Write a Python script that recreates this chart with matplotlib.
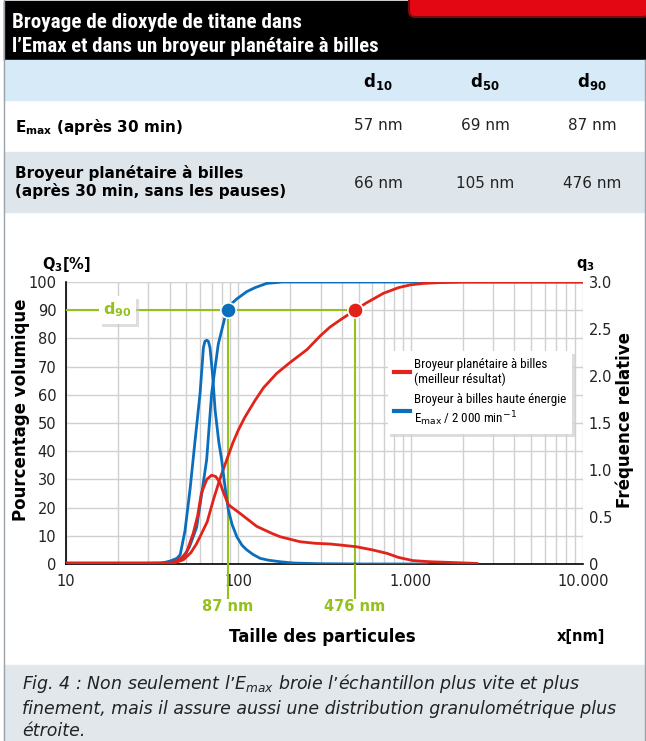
import matplotlib.pyplot as plt
from matplotlib import font_manager
from matplotlib.patches import Rectangle, FancyBboxPatch
from matplotlib.lines import Line2D
from matplotlib.ticker import NullFormatter

plt.rcParams['font.family'] = ['DejaVu Sans']
plt.rcParams['mathtext.fontset'] = 'dejavusans'

# table contents
col_labels = [r'd$_\mathbf{10}$', r'd$_\mathbf{50}$', r'd$_\mathbf{90}$']
row_labels = [r'$\mathbf{E_{max}}$ (après 30 min)',
              'Broyeur planétaire à billes\n(après 30 min, sans les pauses)']
emax_values = ['57 nm', '69 nm', '87 nm']
planet_values = ['66 nm', '105 nm', '476 nm']

# Emax (blue) - cumulative Q3 [%]
blue_cum_x = [10, 35, 40, 44, 48, 52, 57.3, 61, 65.5, 70, 76.5, 84, 87, 92, 98, 112, 125, 146, 180, 10000]
blue_cum_y = [0, 0, 0.5, 1, 2.6, 6, 13, 24, 37, 60.5, 78, 88, 90, 92.5, 94, 96.6, 98, 99.5, 100, 100]
# Emax (blue) - density q3
blue_freq_x = [10, 30, 35, 40, 44, 46, 49, 52.5, 56, 60, 62.7, 64, 65.6, 67, 68.5, 71, 73.3, 77, 80,
               84, 87.6, 92, 98, 105, 112, 122, 134, 150, 175, 210, 300, 500, 1250]
blue_freq_y = [0, 0, 0.005, 0.03, 0.06, 0.1, 0.35, 0.8, 1.3, 1.82, 2.3, 2.37, 2.38, 2.37, 2.3, 2.0, 1.64,
               1.3, 1.11, 0.8, 0.57, 0.42, 0.29, 0.2, 0.15, 0.1, 0.06, 0.04, 0.024, 0.01, 0.003, 0, 0]

# planetary mill (red) - cumulative Q3 [%]
red_cum_x = [10, 35, 42, 48, 53, 57, 60, 66, 71.6, 78, 85.7, 93, 100, 109, 125, 140, 167, 200, 250,
             300, 340, 400, 476, 550, 695, 850, 1000, 1186, 1500, 2000, 10000]
red_cum_y = [0, 0, 0.3, 1.5, 4, 7, 9.7, 15, 22.7, 30, 37, 43, 47.5, 52, 58, 62.5, 67.6, 71.5, 76,
             81, 84, 87, 90, 92.5, 96, 98, 99, 99.5, 99.8, 100, 100]
# planetary mill (red) - density q3
red_freq_x = [10, 30, 40, 43, 47, 50, 54.8, 58, 61, 65.6, 70, 74, 78, 82, 87.6, 102, 128, 159, 175,
              228, 280, 340, 400, 486, 600, 726, 850, 1033, 1297, 1800, 2422]
red_freq_y = [0.012, 0.012, 0.015, 0.024, 0.07, 0.12, 0.33, 0.51, 0.75, 0.9, 0.945, 0.93, 0.87, 0.76,
              0.63, 0.54, 0.4, 0.32, 0.29, 0.237, 0.22, 0.213, 0.2, 0.183, 0.15, 0.114, 0.07, 0.036,
              0.024, 0.015, 0.006]

# d90 markers
d90_emax = 87
d90_planet = 476
d90_level = 90

xticks = [10, 100, 1000, 10000]
xtick_labels = ['10', '100', '1.000', '10.000']
q3_ticks = [0, 0.5, 1.0, 1.5, 2.0, 2.5, 3.0]
q3_labels = ['0', '0.5', '1.0', '1.5', '2.0', '2.5', '3.0']

RED = '#e2231a'
BLUE = '#0a6ebd'
GREEN = '#95c11f'

installed = {f.name for f in font_manager.fontManager.ttflist}


def pick_font(candidates):
    for name in candidates:
        if name in installed:
            return name
    return 'DejaVu Sans'


narrow = pick_font(['Roboto Condensed', 'Liberation Sans Narrow', 'DejaVu Sans Condensed',
                    'Liberation Sans'])
title_font = narrow

fig = plt.figure(figsize=(6.46, 7.41), dpi=100)
renderer = fig.canvas.get_renderer()


def fit_width(txt, width):
    # shrink/grow a text so it spans the given pixel width
    w = txt.get_window_extent(renderer).width
    txt.set_fontsize(txt.get_fontsize() * width / w)


# background layer in pixel coordinates
bg = fig.add_axes([0, 0, 1, 1])
bg.set_xlim(0, 646)
bg.set_ylim(741, 0)
bg.axis('off')

# header
bg.add_patch(Rectangle((4, 1), 642, 59, color='black', zorder=1))
bg.add_patch(FancyBboxPatch((409, -20), 240, 37, boxstyle='round,pad=0,rounding_size=6',
                            fc='#e30613', ec='#7a0a0a', lw=1.5, zorder=2))
t1 = bg.text(12, 22, 'Broyage de dioxyde de titane dans', color='white', fontsize=17,
             fontweight='bold', family=title_font, va='center', ha='left', zorder=3)
t2 = bg.text(12, 46, 'l’Emax et dans un broyeur planétaire à billes', color='white', fontsize=17,
             fontweight='bold', family=title_font, va='center', ha='left', zorder=3)
fit_width(t1, 290)
fit_width(t2, 368)

# table rows
bg.add_patch(Rectangle((4, 60), 642, 40, color='#d7eaf8', zorder=1))
bg.add_patch(Rectangle((4, 152), 642, 60, color='#dfe6eb', zorder=1))
col_x = [378, 485, 592]
for x, lab in zip(col_x, col_labels):
    bg.text(x, 81, lab, fontsize=12, fontweight='bold', ha='center', va='center')
bg.text(15, 127, row_labels[0], fontsize=11, fontweight='bold', ha='left', va='center')
bg.text(15, 182, row_labels[1], fontsize=11, fontweight='bold', ha='left', va='center',
        linespacing=1.2)
for x, v in zip(col_x, emax_values):
    bg.text(x, 125, v, fontsize=11, ha='center', va='center', color='#222222')
for x, v in zip(col_x, planet_values):
    bg.text(x, 183, v, fontsize=11, ha='center', va='center', color='#222222')

# caption
bg.add_patch(Rectangle((4, 665), 642, 76, color='#e1e7eb', zorder=1))
bg.text(22, 706, "Fig. 4 : Non seulement l’$\\mathit{E_{max}}$ broie l’échantillon plus vite et plus\n"
        "finement, mais il assure aussi une distribution granulométrique plus\nétroite.",
        fontsize=12.5, style='italic', ha='left', va='center', linespacing=1.3, color='#222222')

# frame lines
bg.plot([3.5, 3.5], [0, 741], color='#9aa3aa', lw=1, zorder=4)
bg.plot([644.5, 644.5], [60, 741], color='#9aa3aa', lw=1, zorder=4)

# chart
ax = fig.add_axes([66 / 646, 177 / 741, 517 / 646, 282 / 741])
ax.patch.set_visible(False)
ax.set_xscale('log')
ax.set_xlim(10, 10000)
ax.set_ylim(0, 100)
ax.set_yticks(range(0, 101, 10))
ax.set_xticks(xticks)
ax.set_xticklabels(xtick_labels)
ax.xaxis.set_minor_formatter(NullFormatter())
ax.grid(which='both', axis='x', color='#d0d0d0', lw=1)
ax.grid(which='major', axis='y', color='#d0d0d0', lw=1)
ax.set_axisbelow(True)
ax.tick_params(which='both', length=0, labelsize=10.5, colors='#222222')
ax.tick_params(axis='y', pad=7)
ax.tick_params(axis='x', pad=7)
for s in ['top', 'right']:
    ax.spines[s].set_visible(False)
for s in ['left', 'bottom']:
    ax.spines[s].set_color('black')
    ax.spines[s].set_linewidth(1.2)

# green d90 guides
ax.plot([10, d90_planet], [d90_level, d90_level], color=GREEN, lw=1.5, zorder=3)
for xv in [d90_emax, d90_planet]:
    ax.plot([xv, xv], [d90_level, -12], color=GREEN, lw=1.5, zorder=3, clip_on=False)

ax.plot(blue_cum_x, blue_cum_y, color=BLUE, lw=2, zorder=4)
ax.plot(red_cum_x, red_cum_y, color=RED, lw=2, zorder=5)
ax.plot([d90_emax], [d90_level], 'o', ms=11, color=BLUE, mec='white', mew=1.2, zorder=6)
ax.plot([d90_planet], [d90_level], 'o', ms=11, color=RED, mec='white', mew=1.2, zorder=6)

ax.text(d90_emax, -15, '87 nm', color=GREEN, fontsize=10.5, fontweight='bold',
        ha='center', va='center')
ax.text(d90_planet, -15, '476 nm', color=GREEN, fontsize=10.5, fontweight='bold',
        ha='center', va='center')

# d90 label box
shadow = Rectangle((102, 299), 37, 28, transform=bg.transData, fc='#c8c8c8', ec='none',
                   zorder=7, clip_on=False, alpha=0.6)
box = Rectangle((99, 296), 37, 28, transform=bg.transData, fc='white', ec='none',
                zorder=8, clip_on=False)
ax.add_patch(shadow)
ax.add_patch(box)
ax.text(117.5, 310, r'd$_\mathbf{90}$', transform=bg.transData, color=GREEN, fontsize=11.5,
        fontweight='bold', ha='center', va='center', zorder=9)

ax2 = ax.twinx()
ax2.set_ylim(0, 3)
ax2.set_yticks(q3_ticks)
ax2.set_yticklabels(q3_labels)
ax2.tick_params(length=0, labelsize=10.5, colors='#222222', pad=4)
for s in ['top', 'right', 'left', 'bottom']:
    ax2.spines[s].set_visible(False)
ax2.plot(blue_freq_x, blue_freq_y, color=BLUE, lw=2)
ax2.plot(red_freq_x, red_freq_y, color=RED, lw=2)

handles = [Line2D([], [], color=RED, lw=3), Line2D([], [], color=BLUE, lw=3)]
labels = ['Broyeur planétaire à billes\n(meilleur résultat)',
          'Broyeur à billes haute énergie\nE$_{\\mathrm{max}}$ / 2 000 min$^{-1}$']
leg = ax2.legend(handles, labels, loc='upper left', bbox_to_anchor=(0.622, 0.755),
                 prop={'family': narrow, 'size': 9.4},
                 frameon=True, fancybox=False, shadow={'color': '#d5d5d5', 'alpha': 0.8},
                 framealpha=1, edgecolor='white', handlelength=1.2, handletextpad=0.3,
                 labelspacing=0.55, borderpad=0.5, borderaxespad=0)
leg.get_frame().set_linewidth(0)

# axis titles
bg.text(66, 265, r'Q$_\mathbf{3}$[%]', fontsize=10.5, fontweight='bold', ha='center', va='center')
bg.text(585, 265, r'q$_\mathbf{3}$', fontsize=10.5, fontweight='bold', ha='center', va='center')
bg.text(21, 410, 'Pourcentage volumique', fontsize=12, fontweight='bold', rotation=90,
        ha='center', va='center')
bg.text(625, 420, 'Fréquence relative', fontsize=12, fontweight='bold', rotation=90,
        ha='center', va='center')
bg.text(322, 637, 'Taille des particules', fontsize=12, fontweight='bold', ha='center', va='center')
bg.text(581, 637, 'x[nm]', fontsize=10.5, fontweight='bold', ha='center', va='center')

fig.savefig('out.png', dpi=100)
